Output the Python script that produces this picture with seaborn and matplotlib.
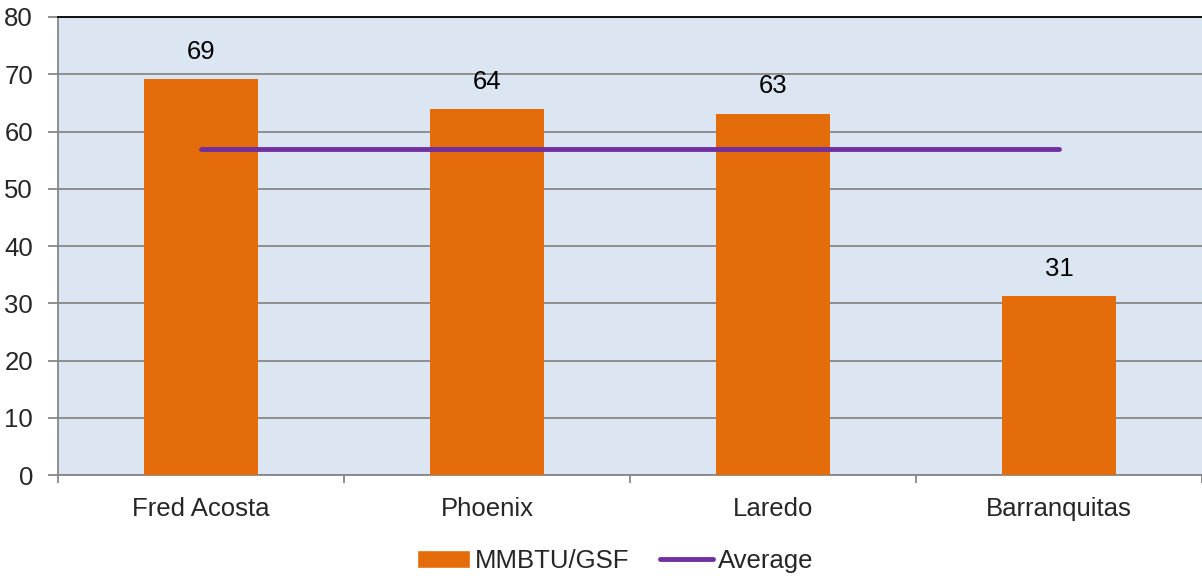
import numpy as np
import pandas as pd
import matplotlib
matplotlib.use("Agg")
import matplotlib.pyplot as plt
import seaborn as sns
from matplotlib.patches import Patch
from matplotlib.lines import Line2D

# data
sites = ["Fred Acosta", "Phoenix", "Laredo", "Barranquitas"]
mmbtu_gsf = [69.2, 63.9, 63.1, 31.2]
bar_labels = ["69", "64", "63", "31"]
average = [57, 57, 57, 57]

sns.set_style("white")
plt.rcParams["font.family"] = ["Liberation Sans", "DejaVu Sans"]

bar_color = "#E46C0A"
line_color = "#7030A0"
grid_color = "#878787"
fs = 18.5

df = pd.DataFrame({"site": sites, "value": mmbtu_gsf})

fig = plt.figure(figsize=(12.02, 5.76), dpi=100)
ax = fig.add_axes([0.0483, 0.1753, 0.9517, 0.7952])
ax.set_facecolor("#DCE6F2")

sns.barplot(data=df, x="site", y="value", color=bar_color, width=0.4,
            saturation=1, linewidth=0, ax=ax, zorder=3)

# average line
ax.plot(np.arange(len(sites)), average, color=line_color, lw=3.5,
        solid_capstyle="round", zorder=4)

# value labels
for i, (v, lab) in enumerate(zip(mmbtu_gsf, bar_labels)):
    ax.annotate(lab, (i, v), xytext=(0, 11), textcoords="offset points",
                ha="center", va="bottom", fontsize=fs, color="black")

ax.set_ylim(0, 80)
ax.set_xlim(-0.5, 3.5)
ax.set_yticks(range(0, 81, 10))
ax.yaxis.grid(True, color=grid_color, lw=1.3, zorder=0)
ax.set_axisbelow(True)

ax.set_xlabel("")
ax.set_ylabel("")
ax.tick_params(axis="y", direction="out", length=7, color=grid_color,
               width=1.3, labelsize=fs, pad=11, left=True)
ax.tick_params(axis="x", which="major", length=0, labelsize=fs, pad=16)
ax.set_xticks(np.arange(-0.5, len(sites), 1), minor=True)
ax.tick_params(axis="x", which="minor", direction="out", length=6,
               color=grid_color, width=1.3, bottom=True)

for s in ["left", "bottom"]:
    ax.spines[s].set_color(grid_color)
    ax.spines[s].set_linewidth(1.3)
ax.spines["top"].set_color("black")
ax.spines["top"].set_linewidth(1.3)
ax.spines["right"].set_visible(False)

handles = [Patch(facecolor=bar_color, label="MMBTU/GSF"),
           Line2D([0], [0], color=line_color, lw=3.5, solid_capstyle="round",
                  label="Average")]
fig.legend(handles=handles, loc="lower center", ncol=2, frameon=False,
           fontsize=fs, bbox_to_anchor=(0.512, -0.035), handlelength=2.05,
           handletextpad=0.2, columnspacing=1.2)

fig.savefig("out.png", dpi=100)
